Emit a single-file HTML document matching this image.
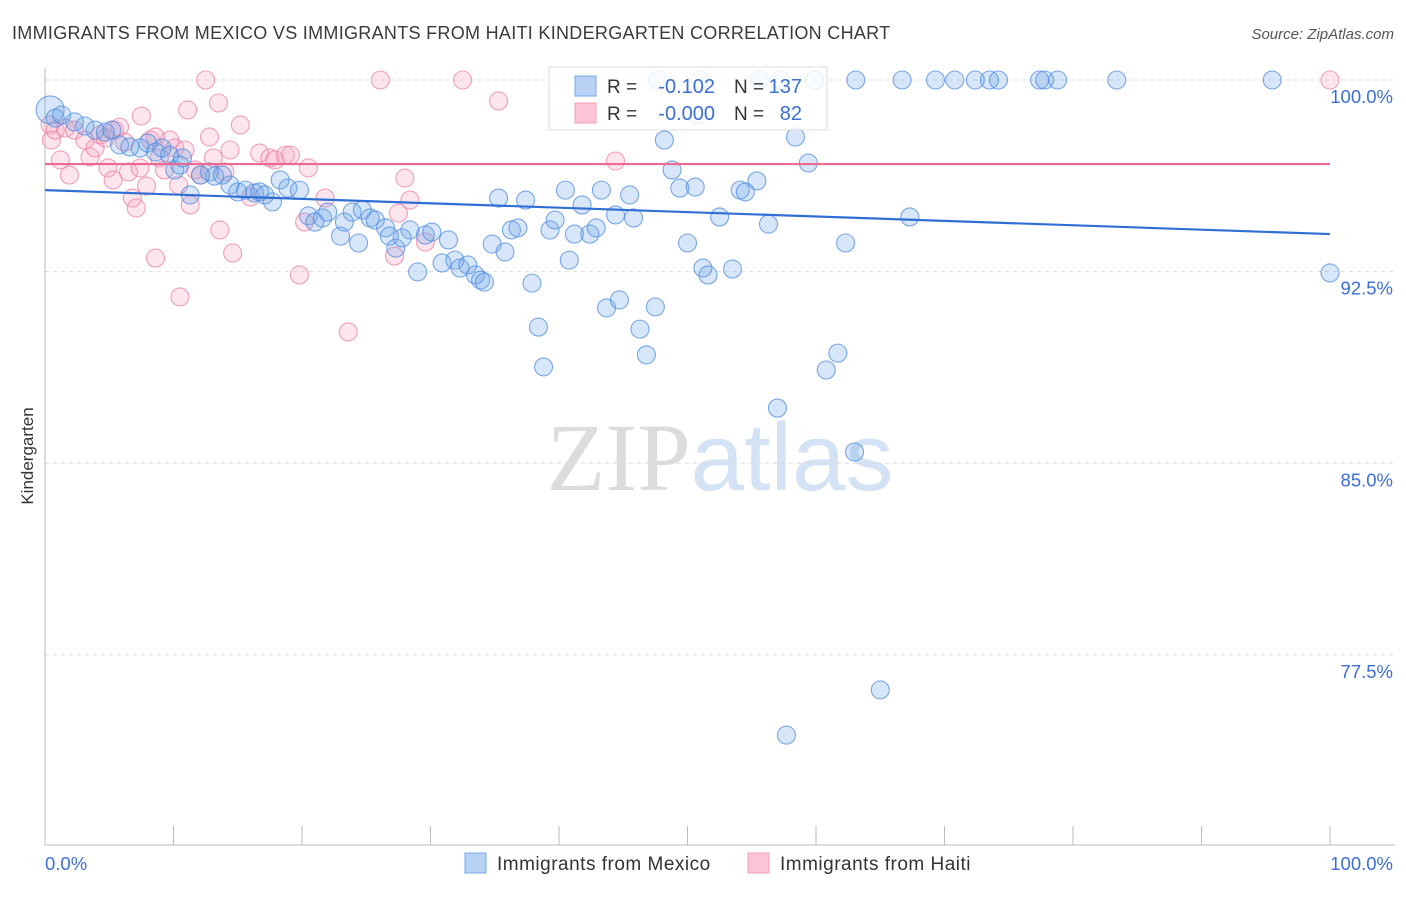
<!DOCTYPE html>
<html><head><meta charset="utf-8"><style>
body{margin:0;background:#fff;font-family:"Liberation Sans",sans-serif}
</style></head><body>
<svg id="chart" width="1406" height="892" xmlns="http://www.w3.org/2000/svg" font-family="Liberation Sans, sans-serif">
<text x="12" y="39" font-size="18" letter-spacing="0.3" fill="#3a3a3a">IMMIGRANTS FROM MEXICO VS IMMIGRANTS FROM HAITI KINDERGARTEN CORRELATION CHART</text>
<text x="1394" y="39" font-size="15" fill="#555" text-anchor="end" font-style="italic">Source: ZipAtlas.com</text>
<text x="720" y="490" font-size="96" text-anchor="middle"><tspan fill="#dcdcdc" font-family="Liberation Serif, serif">ZIP</tspan><tspan fill="#d3e2f4">atlas</tspan></text>
<g id="grid"></g><g id="axes"></g><g id="pts"></g><g id="lines"></g>
<text transform="translate(33,456) rotate(-90)" font-size="17" fill="#333" text-anchor="middle">Kindergarten</text>
<g>
<rect x="549" y="67" width="278" height="63" fill="#fff" fill-opacity="0.85" stroke="#ddd"/>
<rect x="575" y="76" width="21" height="20" fill="#b7d2f5" stroke="#7aaae8"/>
<rect x="575" y="103" width="21" height="20" fill="#fcc5d6" stroke="#f2a0bb"/>
<text x="607" y="93" font-size="19" fill="#333">R =</text>
<text x="715" y="93" font-size="20" fill="#3b6fd6" text-anchor="end">-0.102</text>
<text x="734" y="93" font-size="19" fill="#333">N =</text>
<text x="802" y="93" font-size="20" fill="#3b6fd6" text-anchor="end">137</text>
<text x="607" y="120" font-size="19" fill="#333">R =</text>
<text x="715" y="120" font-size="20" fill="#3b6fd6" text-anchor="end">-0.000</text>
<text x="734" y="120" font-size="19" fill="#333">N =</text>
<text x="802" y="120" font-size="20" fill="#3b6fd6" text-anchor="end">82</text>
</g>
<g>
<rect x="465" y="853" width="21" height="20" fill="#b7d2f5" stroke="#7aaae8"/>
<text x="497" y="870" font-size="19" letter-spacing="0.5" fill="#333">Immigrants from Mexico</text>
<rect x="748" y="853" width="21" height="20" fill="#fcc5d6" stroke="#f2a0bb"/>
<text x="780" y="870" font-size="19" letter-spacing="0.5" fill="#333">Immigrants from Haiti</text>
</g>
</svg>
<script>
const yTicks=[100,92.5,85,77.5];
const yTickLabels=["100.0%","92.5%","85.0%","77.5%"];
const xTickLabels=["0.0%","100.0%"];
const mexicoX=[0.4,0.8,1.3,2.3,3.1,3.9,4.7,5.2,5.8,6.6,7.4,8.0,8.6,9.1,9.7,10.1,10.5,10.7,11.3,12.1,12.8,13.2,13.8,14.4,15.0,15.6,16.3,16.7,17.1,17.7,18.3,18.9,19.8,20.5,21.0,21.6,22.0,23.0,23.3,23.9,24.4,24.7,25.3,25.7,26.5,26.8,27.3,27.8,28.4,29.0,29.6,30.1,30.9,31.4,31.9,32.3,32.9,33.5,33.9,34.2,34.8,35.3,35.8,36.3,36.8,37.4,37.9,38.4,38.8,39.3,39.7,40.5,40.8,41.2,41.8,42.4,42.9,43.3,43.7,44.4,44.7,45.5,45.8,46.3,46.8,47.5,48.2,48.8,49.4,50.0,50.6,51.2,51.6,52.5,53.5,54.1,54.5,55.4,56.3,57.0,57.7,58.4,59.4,60.8,61.7,62.3,63.0,65.0,67.3,100.0,50.8,47.7,51.0,55.6,57.2,59.9,63.1,66.7,69.3,70.8,72.4,73.5,74.2,77.4,77.8,78.8,83.4,95.5];
const mexicoY=[98.83,98.51,98.63,98.36,98.20,98.04,97.96,98.04,97.46,97.38,97.34,97.53,97.18,97.34,97.06,96.48,96.67,96.95,95.50,96.28,96.40,96.24,96.28,95.89,95.62,95.69,95.58,95.62,95.50,95.23,96.09,95.77,95.69,94.68,94.44,94.60,94.83,93.89,94.44,94.83,93.62,94.91,94.60,94.52,94.21,93.89,93.42,93.82,94.13,92.49,93.93,94.05,92.84,93.74,92.95,92.64,92.76,92.37,92.17,92.09,93.58,95.38,93.27,94.13,94.21,95.30,92.05,90.33,88.77,94.13,94.52,95.69,92.95,93.97,95.11,93.97,94.21,95.69,91.08,94.72,91.39,95.50,94.60,90.25,89.24,91.12,97.65,96.48,95.77,93.62,95.81,92.64,92.37,94.64,92.60,95.69,95.62,96.05,94.36,87.16,74.36,97.77,96.75,88.65,89.31,93.62,85.44,76.13,94.64,92.45,98.63,100,100,100,100,100,100,100,100,100,100,100,100,100,100,100,100,100];
const haitiX=[0.4,0.5,0.8,1.2,1.6,1.9,2.3,3.1,3.5,3.9,4.3,4.7,4.9,5.3,5.4,5.8,6.2,6.5,6.8,7.1,7.4,7.5,7.9,8.2,8.6,8.6,8.9,9.3,9.7,10.1,10.4,10.5,10.9,11.1,11.3,11.7,12.1,12.5,12.8,13.1,13.5,13.6,14.0,14.4,14.6,15.2,16.0,16.7,17.5,17.9,18.7,19.1,19.8,20.2,20.5,21.8,23.6,26.1,27.2,27.5,28.0,28.4,29.6,32.5,35.3,44.4,100];
const haitiY=[98.24,97.65,98.04,96.87,98.12,96.28,98.04,97.65,96.99,97.34,97.85,97.73,96.56,96.09,98.04,98.16,97.57,96.40,95.38,94.99,96.56,98.59,95.85,97.65,97.77,93.03,96.95,96.48,97.65,97.34,95.89,91.51,97.26,98.83,95.11,96.48,96.28,100,97.77,96.95,99.10,94.13,96.40,97.26,93.23,98.24,95.42,97.14,96.95,96.87,97.06,97.06,92.37,94.44,96.56,95.38,90.14,100,93.11,94.79,96.16,95.30,93.66,100,99.18,96.83,100];
const mexicoTrend=[95.69,93.97];
const haitiTrend=[96.71,96.71];
const NS="http://www.w3.org/2000/svg";
const X=v=>45+v*12.85, Y=v=>80+(100-v)*25.55;
function mk(tag,attrs,parent){const e=document.createElementNS(NS,tag);for(const k in attrs)e.setAttribute(k,attrs[k]);document.getElementById(parent).appendChild(e);return e;}
yTicks.forEach((t,i)=>{
 const g=mk('line',{x1:45,x2:1395,y1:Y(t),y2:Y(t),stroke:'#ddd','stroke-dasharray':'4,4'},'grid');
 
 
 const l=mk('text',{x:1393,y:Y(t)+23,'font-size':18.5,fill:'#3b6fd6','text-anchor':'end'},'axes');
 l.textContent=yTickLabels[i];
 
 
});
const ax=mk('line',{x1:45,x2:45,y1:68,y2:845,stroke:'#bbb'},'axes');


const bx=mk('line',{x1:45,x2:1395,y1:845,y2:845,stroke:'#bbb'},'axes');


for(let i=0;i<=10;i++){
 const t=mk('line',{x1:X(i*10),x2:X(i*10),y1:826,y2:845,stroke:'#bbb'},'axes');
 
 
}
[[0,'start',45],[1,'end',1393]].forEach(([i,a,x])=>{
 const l=mk('text',{x:x,y:870,'font-size':18.5,fill:'#3b6fd6','text-anchor':a},'axes');
 l.textContent=xTickLabels[i];
 
 
});
haitiX.forEach((x,i)=>{
 const c=mk('circle',{cx:X(x),cy:Y(haitiY[i]),r:9,fill:'rgba(248,160,190,0.28)',stroke:'rgba(236,130,165,0.75)','stroke-width':1.1},'pts');
 
 
});
mexicoX.forEach((x,i)=>{
 const c=mk('circle',{cx:X(x),cy:Y(mexicoY[i]),r:i===0?14:9,fill:'rgba(110,165,235,0.28)',stroke:'rgba(80,140,225,0.75)','stroke-width':1.1},'pts');
 
 
});
const tm=mk('line',{x1:X(0),x2:X(100),y1:Y(mexicoTrend[0]),y2:Y(mexicoTrend[1]),stroke:'#2f6fd4','stroke-width':2.2},'lines');


const th=mk('line',{x1:X(0),x2:X(100),y1:Y(haitiTrend[0]),y2:Y(haitiTrend[1]),stroke:'#ec6a90','stroke-width':2.2},'lines');


</script>
</body></html>
